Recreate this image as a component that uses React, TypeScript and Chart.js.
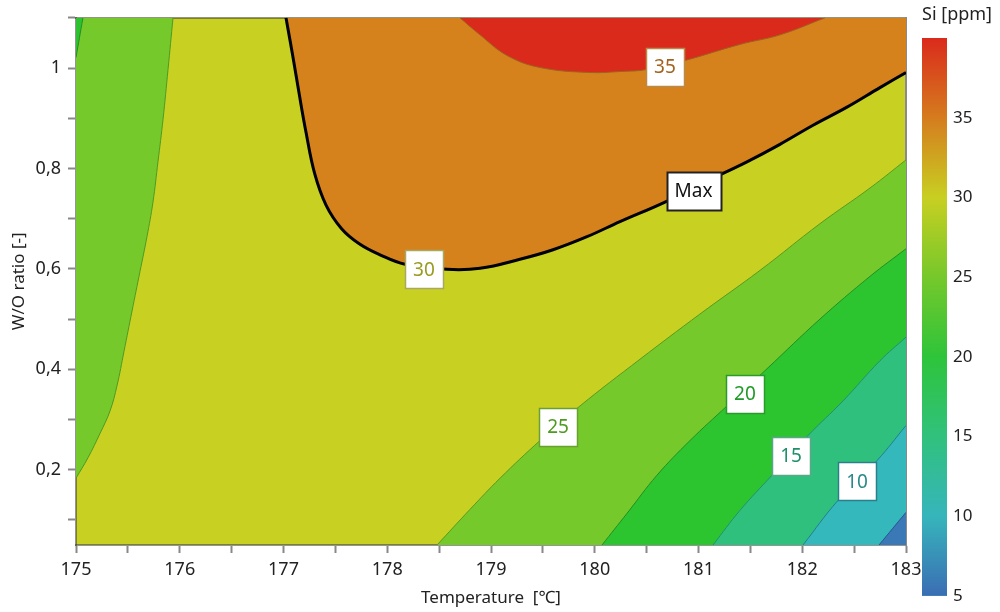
import React, { useEffect, useRef } from 'react';
import { Chart, registerables } from 'chart.js';

Chart.register(...registerables);

const FONT = '"Noto Sans", "Open Sans", sans-serif';

// Axis ranges
const tempRange = [175, 183];
const ratioRange = [0.05, 1.1];

// Contour lines: temperature [°C] / W/O ratio pairs
const c35T = [178.7, 178.894, 179.154, 179.472, 179.954, 180.243, 180.504, 180.87, 181.4, 181.785, 182.22];
const c35W = [1.1, 1.066, 1.025, 1.001, 0.991, 0.993, 0.997, 1.015, 1.047, 1.066, 1.1];

const cMaxT = [177.024, 177.092, 177.149, 177.217, 177.3, 177.41, 177.56, 177.73, 177.93, 178.171, 178.576, 178.894, 179.279, 179.598, 179.925, 180.243, 180.677, 181.226, 181.467, 181.785, 182.104, 182.431, 182.749, 183.0];
const cMaxW = [1.1, 1.021, 0.951, 0.872, 0.79, 0.727, 0.68, 0.65, 0.628, 0.609, 0.599, 0.601, 0.619, 0.638, 0.664, 0.694, 0.733, 0.789, 0.813, 0.848, 0.886, 0.922, 0.961, 0.991];

const c25LeftT = [175.0, 175.116, 175.231, 175.328, 175.395, 175.463, 175.54, 175.617, 175.684, 175.742, 175.79, 175.839, 175.887, 175.935];
const c25LeftW = [0.183, 0.224, 0.272, 0.317, 0.367, 0.436, 0.516, 0.595, 0.664, 0.733, 0.813, 0.898, 0.997, 1.1];

const c20CornerT = [175.0, 175.067];
const c20CornerW = [1.021, 1.1];

const c25T = [178.48, 178.798, 179.087, 179.472, 179.858, 180.436, 181.014, 181.593, 182.171, 182.653, 183.0];
const c25W = [0.05, 0.121, 0.183, 0.258, 0.327, 0.42, 0.51, 0.597, 0.69, 0.761, 0.817];

const c20T = [180.07, 180.311, 180.6, 180.918, 181.275, 181.66, 182.171, 182.653, 183.0];
const c20W = [0.05, 0.113, 0.189, 0.258, 0.327, 0.401, 0.5, 0.585, 0.64];

const c15T = [181.14, 181.4, 181.708, 182.055, 182.393, 182.749, 183.0];
const c15W = [0.05, 0.119, 0.189, 0.268, 0.337, 0.417, 0.464];

const c10T = [182.007, 182.345, 182.72, 183.0];
const c10W = [0.05, 0.139, 0.218, 0.288];

const c5T = [182.74, 183.0];
const c5W = [0.05, 0.115];

// Contour labels
const labelTexts = ['35', '30', 'Max', '25', '20', '15', '10'];
const labelT = [180.677, 178.354, 180.952, 179.646, 181.448, 181.892, 182.528];
const labelW = [1.003, 0.599, 0.756, 0.286, 0.351, 0.228, 0.177];

// Axis ticks
const xTickStep = 0.5;
const yTickValues = [0.1, 0.2, 0.3, 0.4, 0.5, 0.6, 0.7, 0.8, 0.9, 1.0, 1.1];
const yTickLabels = ['', '0,2', '', '0,4', '', '0,6', '', '0,8', '', '1', ''];

// Colour bar
const cbRange = [5, 40];
const cbStopValues = [5, 10, 15, 20, 25, 30, 35, 40];
const cbStopColors = ['#3b6db4', '#36b5bb', '#31c17d', '#2ec43a', '#76c82b', '#c8cf22', '#d57c1e', '#da2a1c'];
const cbTickValues = [5, 10, 15, 20, 25, 30, 35, 40];
const cbTickLabels = ['5', '10', '15', '20', '25', '30', '35', ''];
const cbLineColors = ['#3ab8c8', '#3cc46c', 'rgba(60,200,120,0.45)', 'rgba(0,0,0,0)', 'rgba(0,0,0,0)', '#e0842a', '#e0502a', 'rgba(0,0,0,0)'];

const BASE_FILL = '#c8d022';

const pts = (xs: number[], ys: number[]) => xs.map((x, i) => ({ x, y: ys[i] }));

const labelStyle: Record<string, { text: string; border: string; width: number }> = {
  '35': { text: '#a4621e', border: '#b98a4a', width: 1.5 },
  '30': { text: '#9a9a20', border: '#a8a860', width: 1.5 },
  Max: { text: '#111111', border: '#222222', width: 2 },
  '25': { text: '#4f9a20', border: '#6aa030', width: 1.5 },
  '20': { text: '#1f9a26', border: '#2a9a2a', width: 1.5 },
  '15': { text: '#1f8f6a', border: '#5aa88a', width: 1.5 },
  '10': { text: '#2a8a8a', border: '#2a7f8a', width: 1.5 },
};

const basePlugin = {
  id: 'baseBand',
  beforeDraw(chart: any) {
    const { ctx, chartArea: a } = chart;
    if (!a) return;
    ctx.save();
    ctx.fillStyle = BASE_FILL;
    ctx.fillRect(a.left, a.top, a.right - a.left, a.bottom - a.top);
    ctx.restore();
  },
};

const labelPlugin = {
  id: 'contourLabels',
  afterDatasetsDraw(chart: any) {
    const { ctx } = chart;
    const xs = chart.scales.x;
    const ys = chart.scales.y;
    ctx.save();
    ctx.font = `19px ${FONT}`;
    ctx.textAlign = 'center';
    ctx.textBaseline = 'middle';
    labelTexts.forEach((t, i) => {
      const st = labelStyle[t];
      const px = xs.getPixelForValue(labelT[i]);
      const py = ys.getPixelForValue(labelW[i]);
      const w = Math.round(ctx.measureText(t).width + 16);
      const h = 38;
      const l = Math.round(px - w / 2) + 0.5;
      const tp = Math.round(py - h / 2) + 0.5;
      ctx.fillStyle = '#ffffff';
      ctx.fillRect(l, tp, w, h);
      ctx.lineWidth = st.width;
      ctx.strokeStyle = st.border;
      ctx.strokeRect(l, tp, w, h);
      ctx.fillStyle = st.text;
      ctx.fillText(t, px, py + 1);
    });
    ctx.restore();
  },
};

function lineDs(xs: number[], ys: number[], fill: string, bg: string, border: string, width = 1) {
  return {
    data: pts(xs, ys),
    fill,
    backgroundColor: bg,
    borderColor: border,
    borderWidth: width,
    pointRadius: 0,
    pointHoverRadius: 0,
    tension: 0.4,
  };
}

export default function App() {
  const mainRef = useRef<HTMLCanvasElement>(null);
  const barRef = useRef<HTMLCanvasElement>(null);

  useEffect(() => {
    if (!mainRef.current || !barRef.current) return;

    const main = new Chart(mainRef.current, {
      type: 'line',
      data: {
        datasets: [
          lineDs(c35T, c35W, 'end', '#da2a1c', '#9a6420', 1),
          lineDs(cMaxT, cMaxW, 'end', '#d5821d', '#000000', 3),
          lineDs(c20CornerT, c20CornerW, 'end', '#2dc22f', '#2a8a2a', 1),
          lineDs(c25LeftT, c25LeftW, 'end', '#75c92a', '#4c9a26', 1),
          lineDs(c5T, c5W, 'start', '#3a78b6', '#2a5590', 1),
          lineDs(c10T, c10W, 'start', '#35b8bc', '#237f90', 1),
          lineDs(c15T, c15W, 'start', '#30c07e', '#239070', 1),
          lineDs(c20T, c20W, 'start', '#2dc52f', '#1f8f25', 1),
          lineDs(c25T, c25W, 'start', '#75c92a', '#5a9a20', 1),
        ] as any,
      },
      options: {
        responsive: false,
        animation: false,
        events: [],
        layout: { padding: { left: 0, top: 15, right: 94, bottom: 0 } },
        plugins: {
          legend: { display: false },
          tooltip: { enabled: false },
          filler: { drawTime: 'beforeDatasetsDraw' } as any,
        },
        scales: {
          x: {
            type: 'linear',
            position: 'bottom',
            min: tempRange[0],
            max: tempRange[1],
            z: 1,
            afterFit: (s: any) => { s.height = 67; },
            ticks: {
              stepSize: xTickStep,
              autoSkip: false,
              maxRotation: 0,
              padding: 6,
              color: '#222',
              font: { family: FONT, size: 18 },
              callback: (v: any) => (Number.isInteger(v) ? String(v) : ''),
            },
            grid: { drawOnChartArea: false, drawTicks: true, tickLength: 8, tickColor: '#888', tickWidth: 2 },
            border: { display: true, color: 'rgba(60,60,60,0.55)', width: 2 },
            title: { display: true, text: 'Temperature  [℃]', color: '#222', font: { family: FONT, size: 17 }, padding: { top: 0, bottom: 4 } },
          },
          y: {
            type: 'linear',
            position: 'left',
            min: ratioRange[0],
            max: ratioRange[1],
            z: 1,
            afterFit: (s: any) => { s.width = 76; },
            afterBuildTicks: (s: any) => { s.ticks = yTickValues.map((v) => ({ value: v })); },
            ticks: {
              autoSkip: false,
              padding: 7,
              color: '#222',
              font: { family: FONT, size: 18 },
              callback: (_v: any, i: number) => yTickLabels[i],
            },
            grid: { drawOnChartArea: false, drawTicks: true, tickLength: 8, tickColor: '#888', tickWidth: 2 },
            border: { display: true, color: 'rgba(60,60,60,0.55)', width: 2 },
            title: { display: true, text: 'W/O ratio [-]', color: '#222', font: { family: FONT, size: 17 }, padding: { top: 9, bottom: 0 } },
          },
          x2: {
            type: 'linear',
            position: 'top',
            min: tempRange[0],
            max: tempRange[1],
            z: 1,
            afterFit: (s: any) => { s.height = 0; },
            ticks: { display: false },
            grid: { drawOnChartArea: false, drawTicks: false },
            border: { display: true, color: 'rgba(50,50,50,0.5)', width: 2 },
          },
          y2: {
            type: 'linear',
            position: 'right',
            min: ratioRange[0],
            max: ratioRange[1],
            z: 1,
            afterFit: (s: any) => { s.width = 0; },
            ticks: { display: false },
            grid: { drawOnChartArea: false, drawTicks: false },
            border: { display: true, color: '#8a8a8a', width: 2 },
          },
        },
      },
      plugins: [basePlugin, labelPlugin],
    });

    const bar = new Chart(barRef.current, {
      type: 'bar',
      data: {
        labels: [''],
        datasets: [
          {
            data: [cbRange as any],
            barPercentage: 1,
            categoryPercentage: 1,
            borderWidth: 0,
            backgroundColor: (c: any) => {
              const ch = c.chart;
              const ys = ch.scales.y;
              if (!ch.chartArea || !ys) return cbStopColors[0];
              const y0 = ys.getPixelForValue(cbRange[0]);
              const y1 = ys.getPixelForValue(cbRange[1]);
              const g = ch.ctx.createLinearGradient(0, y0, 0, y1);
              cbStopValues.forEach((v, i) => {
                g.addColorStop((v - cbRange[0]) / (cbRange[1] - cbRange[0]), cbStopColors[i]);
              });
              return g;
            },
          },
        ],
      },
      options: {
        responsive: false,
        animation: false,
        events: [],
        layout: { padding: { left: 22, top: 0, right: 0, bottom: 14 } },
        plugins: {
          legend: { display: false },
          tooltip: { enabled: false },
          title: {
            display: true,
            text: 'Si [ppm]',
            align: 'start',
            color: '#222',
            font: { family: FONT, size: 18, weight: 'normal' },
            padding: { top: 4, bottom: 12.4 },
          },
        },
        scales: {
          x: { display: false },
          y: {
            position: 'right',
            min: cbRange[0],
            max: cbRange[1],
            z: 1,
            afterFit: (s: any) => { s.width = 53; },
            afterBuildTicks: (s: any) => { s.ticks = cbTickValues.map((v) => ({ value: v })); },
            ticks: {
              padding: 6,
              color: '#222',
              font: { family: FONT, size: 17 },
              callback: (_v: any, i: number) => cbTickLabels[i],
            },
            grid: {
              drawOnChartArea: true,
              drawTicks: false,
              lineWidth: 1,
              color: (c: any) => cbLineColors[c.index] ?? 'rgba(0,0,0,0)',
            },
            border: { display: false },
          },
        },
      },
    });

    return () => {
      main.destroy();
      bar.destroy();
    };
  }, []);

  return (
    <div style={{ position: 'absolute', left: 0, top: 0, width: 1000, height: 612, background: '#fff' }}>
      <canvas ref={mainRef} width={1000} height={612} style={{ position: 'absolute', left: 0, top: 0 }} />
      <canvas ref={barRef} width={100} height={612} style={{ position: 'absolute', left: 900, top: 0 }} />
    </div>
  );
}
